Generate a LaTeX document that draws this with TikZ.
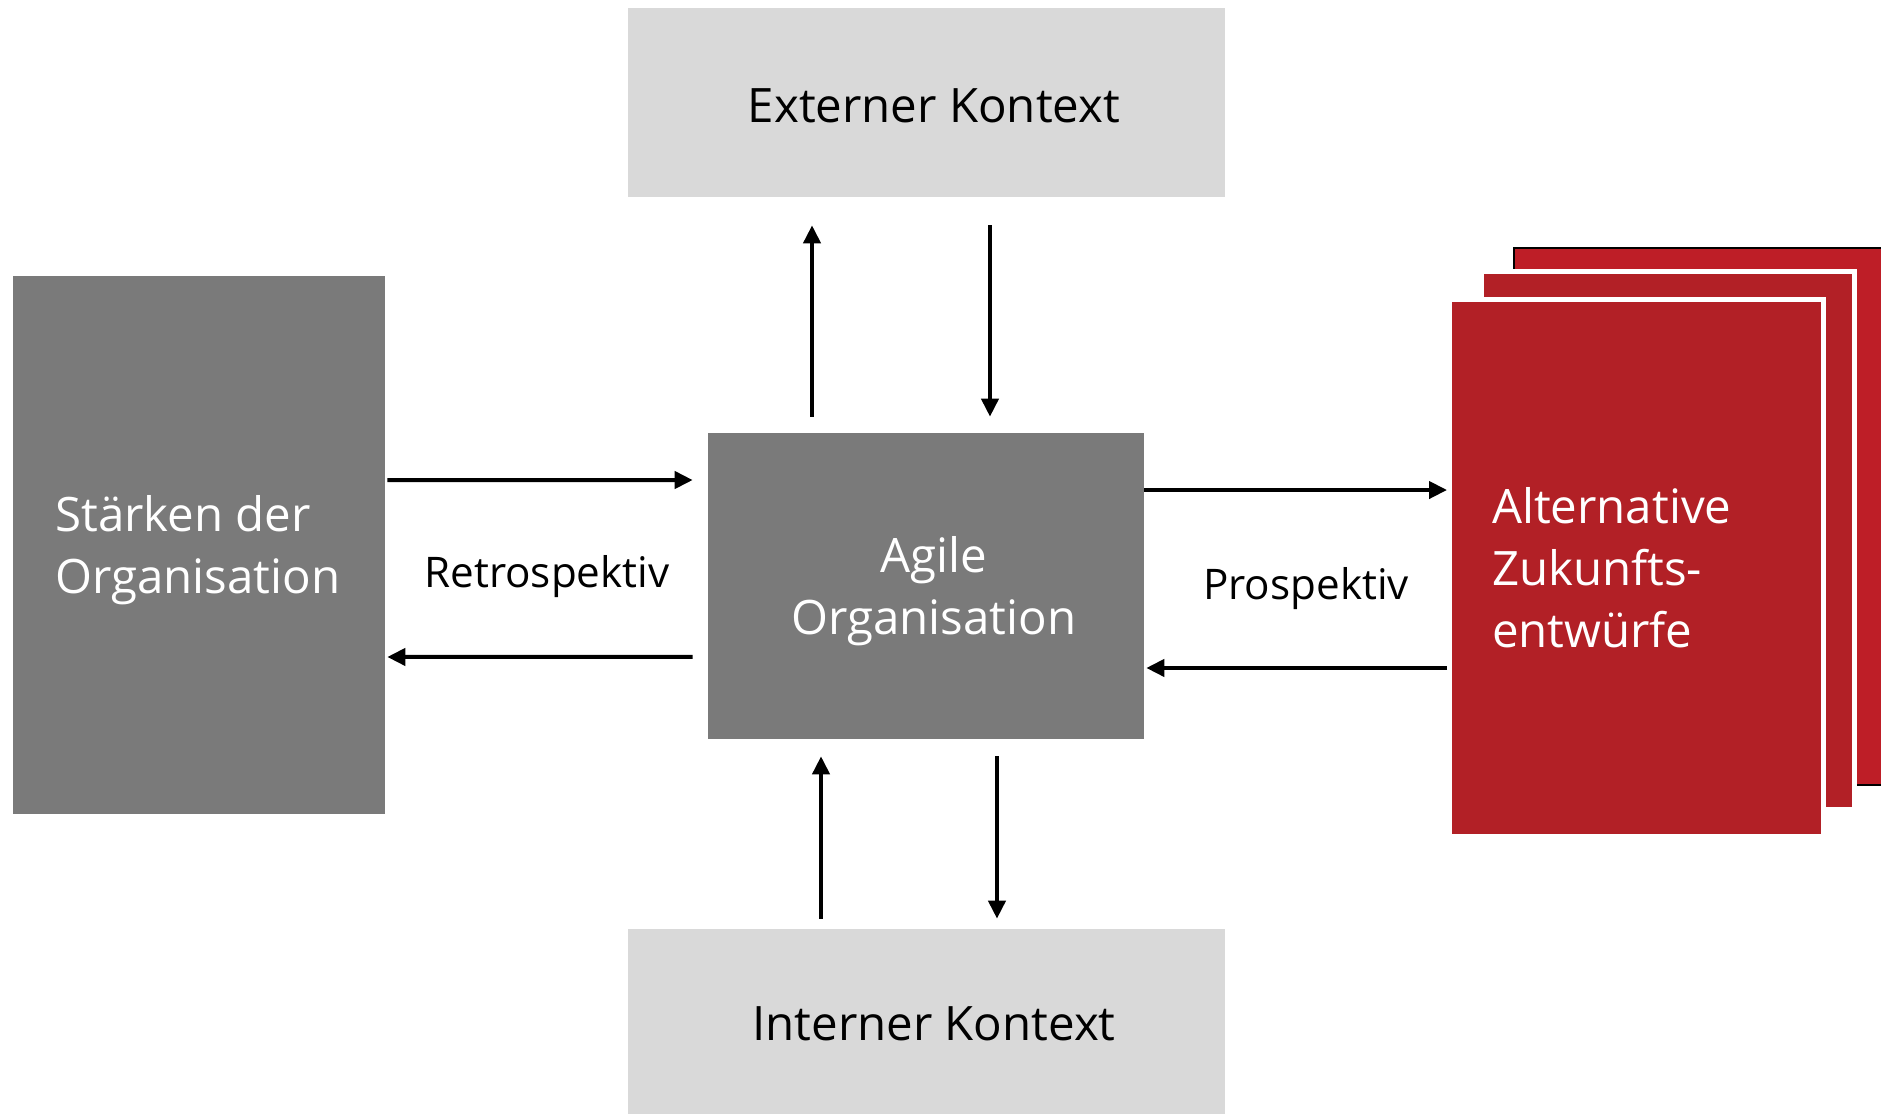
\documentclass[tikz,border=0pt]{standalone}
\usepackage{fontspec}
\setmainfont{Open Sans}
\usetikzlibrary{arrows.meta,positioning,calc}
\definecolor{lightgrey}{HTML}{D9D9D9}
\definecolor{darkgrey}{HTML}{7A7A7A}
\definecolor{cardred}{HTML}{B22026}
\definecolor{backred}{HTML}{BE1E27}
\tikzset{
  contextbox/.style={rectangle,fill=lightgrey,minimum width=11.94cm},
  darkbox/.style={rectangle,fill=darkgrey},
  boxtext/.style={inner sep=0pt,font=\fontsize{27}{32}\selectfont},
  whitetext/.style={inner sep=0pt,text=white,font=\fontsize{27}{35.2}\selectfont},
  redcard/.style={rectangle,fill=cardred,draw=white,line width=0.1cm,minimum width=7.48cm,minimum height=10.75cm},
  arrow/.style={-{Triangle[length=0.36cm,width=0.34cm]},line width=0.08cm,black},
  sidenote/.style={font=\fontsize{24}{29}\selectfont}
}
\begin{document}
\begin{tikzpicture}[x=0.02cm,y=-0.02cm]
    \useasboundingbox (0,0) rectangle (1881,1114);
    % context boxes
    \node[contextbox,minimum height=3.78cm] (ext) at (926.5,102.5) {};
    \node[contextbox,minimum height=3.7cm] (int) at (926.5,1021.5) {};
    \node[boxtext] (exttext) at (934,106) {Externer Kontext};
    \node[boxtext] (inttext) at (934,1024) {Interner Kontext};
    % grey boxes
    \node[darkbox,minimum width=7.44cm,minimum height=10.76cm] (str) at (199,545) {};
    \node[darkbox,minimum width=8.72cm,minimum height=6.12cm] (agile) at (926,586) {};
    \node[whitetext,anchor=west,align=left] (strtext) at (55,550.5) {Stärken der\\Organisation};
    \node[whitetext,align=center] (agiletext) at (934,591.5) {Agile\\Organisation};
    % stack of red cards
    \node[redcard,fill=backred,draw=black,line width=0.04cm,minimum width=7.72cm,minimum height=10.74cm] (altback) at (1707,516.5) {};
    \node[redcard,minimum width=7.45cm,minimum height=10.76cm] (altmid) at (1668,540.5) {};
    \node[redcard,whitetext,inner xsep=0.85cm,text width=5.78cm,align=left] (alt) at (1636.5,568)
      {Alternative\\Zukunfts-\\entwürfe};
    % labels
    \node[sidenote] (retro) at (547,577) {Retrospektiv};
    \node[sidenote] (pro) at (1306,589) {Prospektiv};
    % arrows top and bottom
    \draw[arrow,shorten <=0.32cm,shorten >=0.56cm] ([xshift=-2.28cm]agile.north) -- ([xshift=-2.28cm]agile.north |- ext.south);
    \draw[arrow,shorten <=0.56cm,shorten >=0.32cm] ([xshift=1.28cm]agile.north |- ext.south) -- ([xshift=1.28cm]agile.north);
    \draw[arrow,shorten <=0.2cm,shorten >=0.34cm] ([xshift=-2.1cm]agile.south |- int.north) -- ([xshift=-2.1cm]agile.south);
    \draw[arrow,shorten <=0.34cm,shorten >=0.2cm] ([xshift=1.42cm]agile.south) -- ([xshift=1.42cm]agile.south |- int.north);
    % arrows left
    \draw[arrow,shorten <=0.04cm,shorten >=0.3cm] ([yshift=1.3cm]str.east) -- ([yshift=2.12cm]agile.west);
    \draw[arrow,shorten <=0.3cm,shorten >=0.04cm] ([yshift=-1.42cm]agile.west) -- ([yshift=-2.24cm]str.east);
    % arrows right
    \draw[arrow] ([yshift=1.56cm]agile.east |- alt.west) -- ([yshift=1.56cm]alt.west);
    \draw[arrow,shorten >=0.04cm] ([yshift=-2cm]alt.west) -- ([yshift=-2cm]agile.east |- alt.west);
  \end{tikzpicture}
\end{document}
